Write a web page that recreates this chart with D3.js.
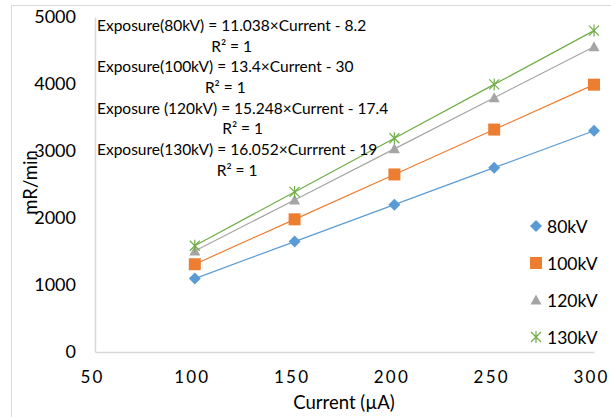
<!DOCTYPE html>
<html>
<head>
<meta charset="utf-8">
<script src="https://cdn.jsdelivr.net/npm/d3@7"></script>
<style>
  html, body { margin: 0; padding: 0; background: #fff; }
  svg { display: block; font-family: Lato, "Open Sans", sans-serif; }
</style>
</head>
<body>
<svg id="chart" width="611" height="417"></svg>
<script>
// Beam current (µA) on the x axis
const currents = [100, 150, 200, 250, 300];

// Exposure rate (mR/min) for each tube voltage
const exp80 = [1096, 1648, 2199, 2751, 3303];
const exp100 = [1310, 1980, 2650, 3320, 3990];
const exp120 = [1507, 2270, 3032, 3795, 4557];
const exp130 = [1586, 2389, 3191, 3994, 4797];

const seriesNames = ["80kV", "100kV", "120kV", "130kV"];
const seriesValues = [exp80, exp100, exp120, exp130];
const seriesColors = ["#5B9BD5", "#ED7D31", "#A5A5A5", "#70AD47"];
const seriesMarkers = ["diamond", "square", "triangle", "star"];

// Trendline equations printed on the chart
const fitLabels = [
  "Exposure(80kV) = 11.038×Current - 8.2",
  "Exposure(100kV) = 13.4×Current - 30",
  "Exposure (120kV) = 15.248×Current - 17.4",
  "Exposure(130kV) = 16.052×Currrent - 19"
];
const r2Label = "R² = 1";

const xTicks = [50, 100, 150, 200, 250, 300];
const yTicks = [0, 1000, 2000, 3000, 4000, 5000];

const svg = d3.select("#chart");

// chart frame
svg.append("rect")
  .attr("x", 11.5).attr("y", 5.5)
  .attr("width", 640).attr("height", 440)
  .attr("fill", "none").attr("stroke", "#D9D9D9").attr("stroke-width", 1);

const plot = { left: 95, right: 594, top: 17, bottom: 352 };

const x = d3.scaleLinear().domain([50, 300]).range([plot.left, plot.right]);
const y = d3.scaleLinear().domain([0, 5000]).range([plot.bottom, plot.top]);

// axes
const xAxis = svg.append("g")
  .attr("transform", `translate(0,${plot.bottom})`)
  .call(d3.axisBottom(x).tickValues(xTicks).tickSize(0).tickPadding(19).tickFormat(d3.format("d")));
xAxis.select(".domain").attr("stroke", "#D9D9D9").attr("stroke-width", 1.5);
xAxis.selectAll("text")
  .attr("fill", "#000").attr("font-size", 17).attr("letter-spacing", 2.2)
  .attr("dx", -3)
  .attr("font-family", "Lato, sans-serif");

const yAxis = svg.append("g")
  .attr("transform", `translate(${plot.left},0)`)
  .call(d3.axisLeft(y).tickValues(yTicks).tickSize(0).tickPadding(19).tickFormat(d3.format("d")));
yAxis.select(".domain").attr("stroke", "#D9D9D9").attr("stroke-width", 1.5);
yAxis.selectAll("text")
  .attr("fill", "#000").attr("font-size", 18)
  .attr("font-family", "Lato, sans-serif");

// axis titles
svg.append("text")
  .attr("x", 344).attr("y", 409)
  .attr("text-anchor", "middle").attr("font-size", 18.5).attr("fill", "#000")
  .text("Current (µA)");

svg.append("text")
  .attr("transform", `translate(37,182.5) rotate(-90)`)
  .attr("text-anchor", "middle").attr("font-size", 18.5).attr("fill", "#000")
  .text("mR/min");

// marker shapes
function markerPath(kind) {
  switch (kind) {
    case "diamond": return "M0,-6L6,0L0,6L-6,0Z";
    case "square": return "M-6,-6H6V6H-6Z";
    case "triangle": return "M0,-5.5L5.5,4.5H-5.5Z";
    default: return "M-5,-5L5,5M-5,5L5,-5M0,-6L0,6";
  }
}

function drawMarker(g, kind, color, cx, cy) {
  const p = g.append("path")
    .attr("transform", `translate(${cx},${cy})`)
    .attr("d", markerPath(kind));
  if (kind === "star") {
    p.attr("fill", "none").attr("stroke", color).attr("stroke-width", 1.2);
  } else {
    p.attr("fill", color);
  }
}

const line = d3.line().x(d => x(d[0])).y(d => y(d[1]));

seriesValues.forEach((vals, i) => {
  const pts = currents.map((c, j) => [c, vals[j]]);
  const g = svg.append("g");
  g.append("path")
    .attr("d", line(pts))
    .attr("fill", "none")
    .attr("stroke", seriesColors[i])
    .attr("stroke-width", 1.2);
  pts.forEach(p => drawMarker(g, seriesMarkers[i], seriesColors[i], x(p[0]), y(p[1])));
});

// trendline equations with R² centred below each
const ann = svg.append("g").attr("font-size", 15.5).attr("fill", "#000");
fitLabels.forEach((t, i) => {
  const baseY = 31 + i * 41.3;
  const eq = ann.append("text").attr("x", 97).attr("y", baseY).text(t);
  const w = eq.node().getComputedTextLength();
  ann.append("text")
    .attr("x", 97 + w / 2).attr("y", baseY + 20.7)
    .attr("text-anchor", "middle")
    .text(r2Label);
});

// legend
const legend = svg.append("g");
seriesNames.forEach((name, i) => {
  const ly = 226 + i * 37;
  drawMarker(legend, seriesMarkers[i], seriesColors[i], 536, ly);
  legend.append("text")
    .attr("x", 547).attr("y", ly + 6.5)
    .attr("font-size", 17.5).attr("fill", "#000")
    .text(name);
});
</script>
</body>
</html>
